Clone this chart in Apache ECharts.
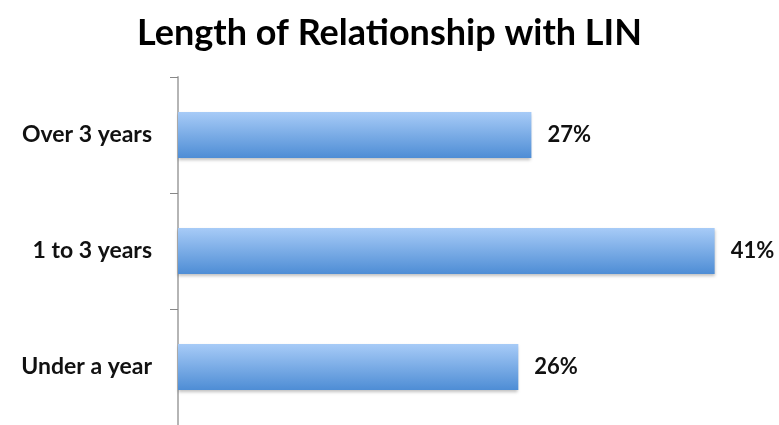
<!DOCTYPE html>
<html lang="en" style="height: 100%">
<head>
  <meta charset="utf-8">
</head>
<body style="height: 100%; margin: 0">
  <div id="container" style="width: 779px; height: 425px"></div>

  <script type="text/javascript" src="https://fastly.jsdelivr.net/npm/echarts@6/dist/echarts.min.js"></script>

  <script type="text/javascript">
    var categories = ['Under a year', '1 to 3 years', 'Over 3 years'];
    var shares = [26, 41, 27];

    var dom = document.getElementById('container');
    var myChart = echarts.init(dom, null, { renderer: 'canvas' });
    var font = 'Lato, "Open Sans", sans-serif';

    var option = {
      backgroundColor: '#fff',
      title: {
        text: 'Length of Relationship with LIN',
        left: 'center',
        top: 10,
        textStyle: { fontFamily: font, fontSize: 36, fontWeight: 'bold', color: '#000' }
      },
      grid: { left: 178, right: 12, top: 77, bottom: 0 },
      xAxis: {
        type: 'value',
        min: 0,
        max: 45,
        show: false
      },
      yAxis: {
        type: 'category',
        data: categories,
        axisLine: { lineStyle: { color: '#b5b5b5', width: 2 } },
        axisTick: { show: true, length: 8, lineStyle: { color: '#888', width: 1 } },
        axisLabel: {
          margin: 26,
          fontFamily: font,
          fontSize: 23,
          fontWeight: 'bold',
          color: '#111'
        }
      },
      series: [{
        type: 'bar',
        data: shares,
        barWidth: 46,
        itemStyle: {
          color: new echarts.graphic.LinearGradient(0, 0, 0, 1, [
            { offset: 0, color: '#a7cbf7' },
            { offset: 1, color: '#4e8dd5' }
          ]),
          shadowColor: 'rgba(0,0,0,0.25)',
          shadowBlur: 3,
          shadowOffsetY: 2
        },
        label: {
          show: true,
          position: 'right',
          distance: 16,
          formatter: '{c}%',
          fontFamily: font,
          fontSize: 22,
          fontWeight: 'bold',
          color: '#111'
        }
      }]
    };

    myChart.setOption(option);
    window.addEventListener('resize', myChart.resize);
  </script>
</body>
</html>
